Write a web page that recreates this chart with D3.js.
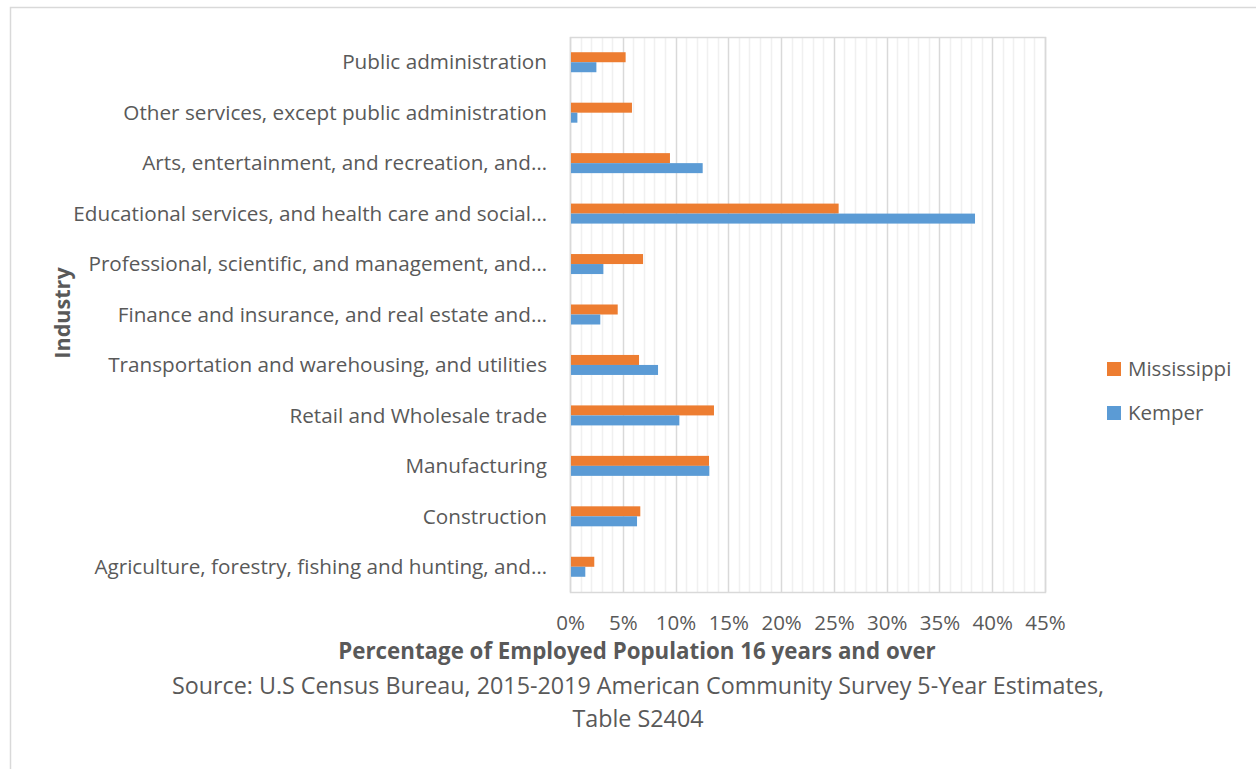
<!DOCTYPE html>
<html>
<head>
<meta charset="utf-8">
<script src="https://cdn.jsdelivr.net/npm/d3@7"></script>
<style>
  html, body { margin: 0; padding: 0; background: #fff; }
  svg { display: block; font-family: "Open Sans", "Noto Sans", sans-serif; }
</style>
</head>
<body>
<svg id="chart" width="1256" height="769"></svg>
<script>
// Industry categories, listed bottom to top as they appear on the y axis
const categories = [
  "Agriculture, forestry, fishing and hunting, and…",
  "Construction",
  "Manufacturing",
  "Retail and Wholesale trade",
  "Transportation and warehousing, and utilities",
  "Finance and insurance, and real estate and…",
  "Professional, scientific, and management, and…",
  "Educational services, and health care and social…",
  "Arts, entertainment, and recreation, and…",
  "Other services, except public administration",
  "Public administration"
];

// Share of employed population 16+ (percent)
const mississippi = [2.3, 6.66, 13.17, 13.64, 6.54, 4.52, 6.92, 25.45, 9.47, 5.87, 5.27];
const kemper      = [1.45, 6.35, 13.2, 10.36, 8.34, 2.87, 3.16, 38.37, 12.57, 0.7, 2.5];

const seriesNames = ["Mississippi", "Kemper"];
const seriesColors = ["#ED7D31", "#5B9BD5"];

const xTicks = [0, 5, 10, 15, 20, 25, 30, 35, 40, 45];
const xMinorTicks = d3.range(0, 46, 1);

const axisTitle = "Percentage of Employed Population 16 years and over";
const sourceLines = [
  "Source: U.S Census Bureau, 2015-2019 American Community Survey 5-Year Estimates,",
  "Table S2404"
];
const yTitle = "Industry";

const textColor = "#595959";
const svg = d3.select("#chart");

// Chart area border
svg.append("rect")
  .attr("x", 10.5).attr("y", 7.5)
  .attr("width", 1256).attr("height", 769)
  .attr("fill", "#fff").attr("stroke", "#d9d9d9").attr("stroke-width", 1.5);

const plot = { left: 570, top: 37, right: 1045, bottom: 592 };

const x = d3.scaleLinear().domain([0, 45]).range([plot.left, plot.right]);
const y = d3.scaleBand()
  .domain(categories.slice().reverse())
  .range([plot.top, plot.bottom]);
const inner = d3.scaleBand().domain(seriesNames).range([0, 20]);

const g = svg.append("g");

// Minor gridlines (every 1%)
g.selectAll("line.minor")
  .data(xMinorTicks.filter(d => d % 5 !== 0))
  .join("line")
  .attr("class", "minor")
  .attr("x1", d => Math.round(x(d)) + 0.5).attr("x2", d => Math.round(x(d)) + 0.5)
  .attr("y1", plot.top).attr("y2", plot.bottom)
  .attr("stroke", "#f0f0f0").attr("stroke-width", 1.5);

// Major gridlines (every 5%)
g.selectAll("line.major")
  .data(xTicks)
  .join("line")
  .attr("class", "major")
  .attr("x1", d => Math.round(x(d)) + 0.5).attr("x2", d => Math.round(x(d)) + 0.5)
  .attr("y1", plot.top).attr("y2", plot.bottom)
  .attr("stroke", "#d9d9d9").attr("stroke-width", 1.5);

// Plot area border
g.append("rect")
  .attr("x", plot.left + 0.5).attr("y", plot.top + 0.5)
  .attr("width", plot.right - plot.left).attr("height", plot.bottom - plot.top)
  .attr("fill", "none").attr("stroke", "#d9d9d9").attr("stroke-width", 1.5);

// Bars
const rows = categories.map((c, i) => ({ c, vals: [mississippi[i], kemper[i]] }));
const groupOffset = (y.bandwidth() - 20) / 2;

rows.forEach(r => {
  seriesNames.forEach((s, si) => {
    g.append("rect")
      .attr("x", x(0) + 1)
      .attr("y", y(r.c) + groupOffset + inner(s))
      .attr("width", x(r.vals[si]) - x(0) - 1)
      .attr("height", inner.bandwidth())
      .attr("fill", seriesColors[si]);
  });
});

// X axis tick labels
const xAxis = d3.axisBottom(x).tickValues(xTicks).tickFormat(d => d + "%").tickSize(0).tickPadding(0);
const xg = svg.append("g").attr("transform", `translate(0, ${plot.bottom + 38})`).call(xAxis);
xg.select(".domain").remove();
xg.selectAll("text")
  .attr("dy", 0)
  .attr("fill", textColor)
  .style("font-size", "20.5px")
  .style("font-family", "'Open Sans', sans-serif");

// Y axis category labels
const yAxis = d3.axisLeft(y).tickSize(0).tickPadding(0);
const yg = svg.append("g").attr("transform", `translate(${plot.left - 23}, 0)`).call(yAxis);
yg.select(".domain").remove();
yg.selectAll("text")
  .attr("dy", "0.35em")
  .attr("fill", textColor)
  .style("font-size", "20.7px")
  .style("font-family", "'Open Sans', sans-serif");

// Axis titles
svg.append("text")
  .attr("x", 637).attr("y", 659)
  .attr("text-anchor", "middle")
  .attr("fill", textColor)
  .style("font-size", "22.3px").style("font-weight", "bold")
  .text(axisTitle);

svg.selectAll("text.source")
  .data(sourceLines)
  .join("text")
  .attr("class", "source")
  .attr("x", 638).attr("y", (d, i) => 694 + i * 32.5)
  .attr("text-anchor", "middle")
  .attr("fill", textColor)
  .style("font-size", "23.3px")
  .text(d => d);

svg.append("text")
  .attr("transform", "translate(70, 313) rotate(-90)")
  .attr("text-anchor", "middle")
  .attr("fill", "#595959")
  .style("font-size", "21.6px").style("font-weight", "bold")
  .text(yTitle);

// Legend
const legend = svg.append("g");
seriesNames.forEach((s, i) => {
  const ly = 369 + i * 44;
  legend.append("rect")
    .attr("x", 1107).attr("y", ly - 7).attr("width", 14).attr("height", 14)
    .attr("fill", seriesColors[i]);
  legend.append("text")
    .attr("x", 1128).attr("y", ly).attr("dy", "0.35em")
    .attr("fill", textColor)
    .style("font-size", "20.5px")
    .text(s);
});
</script>
</body>
</html>
